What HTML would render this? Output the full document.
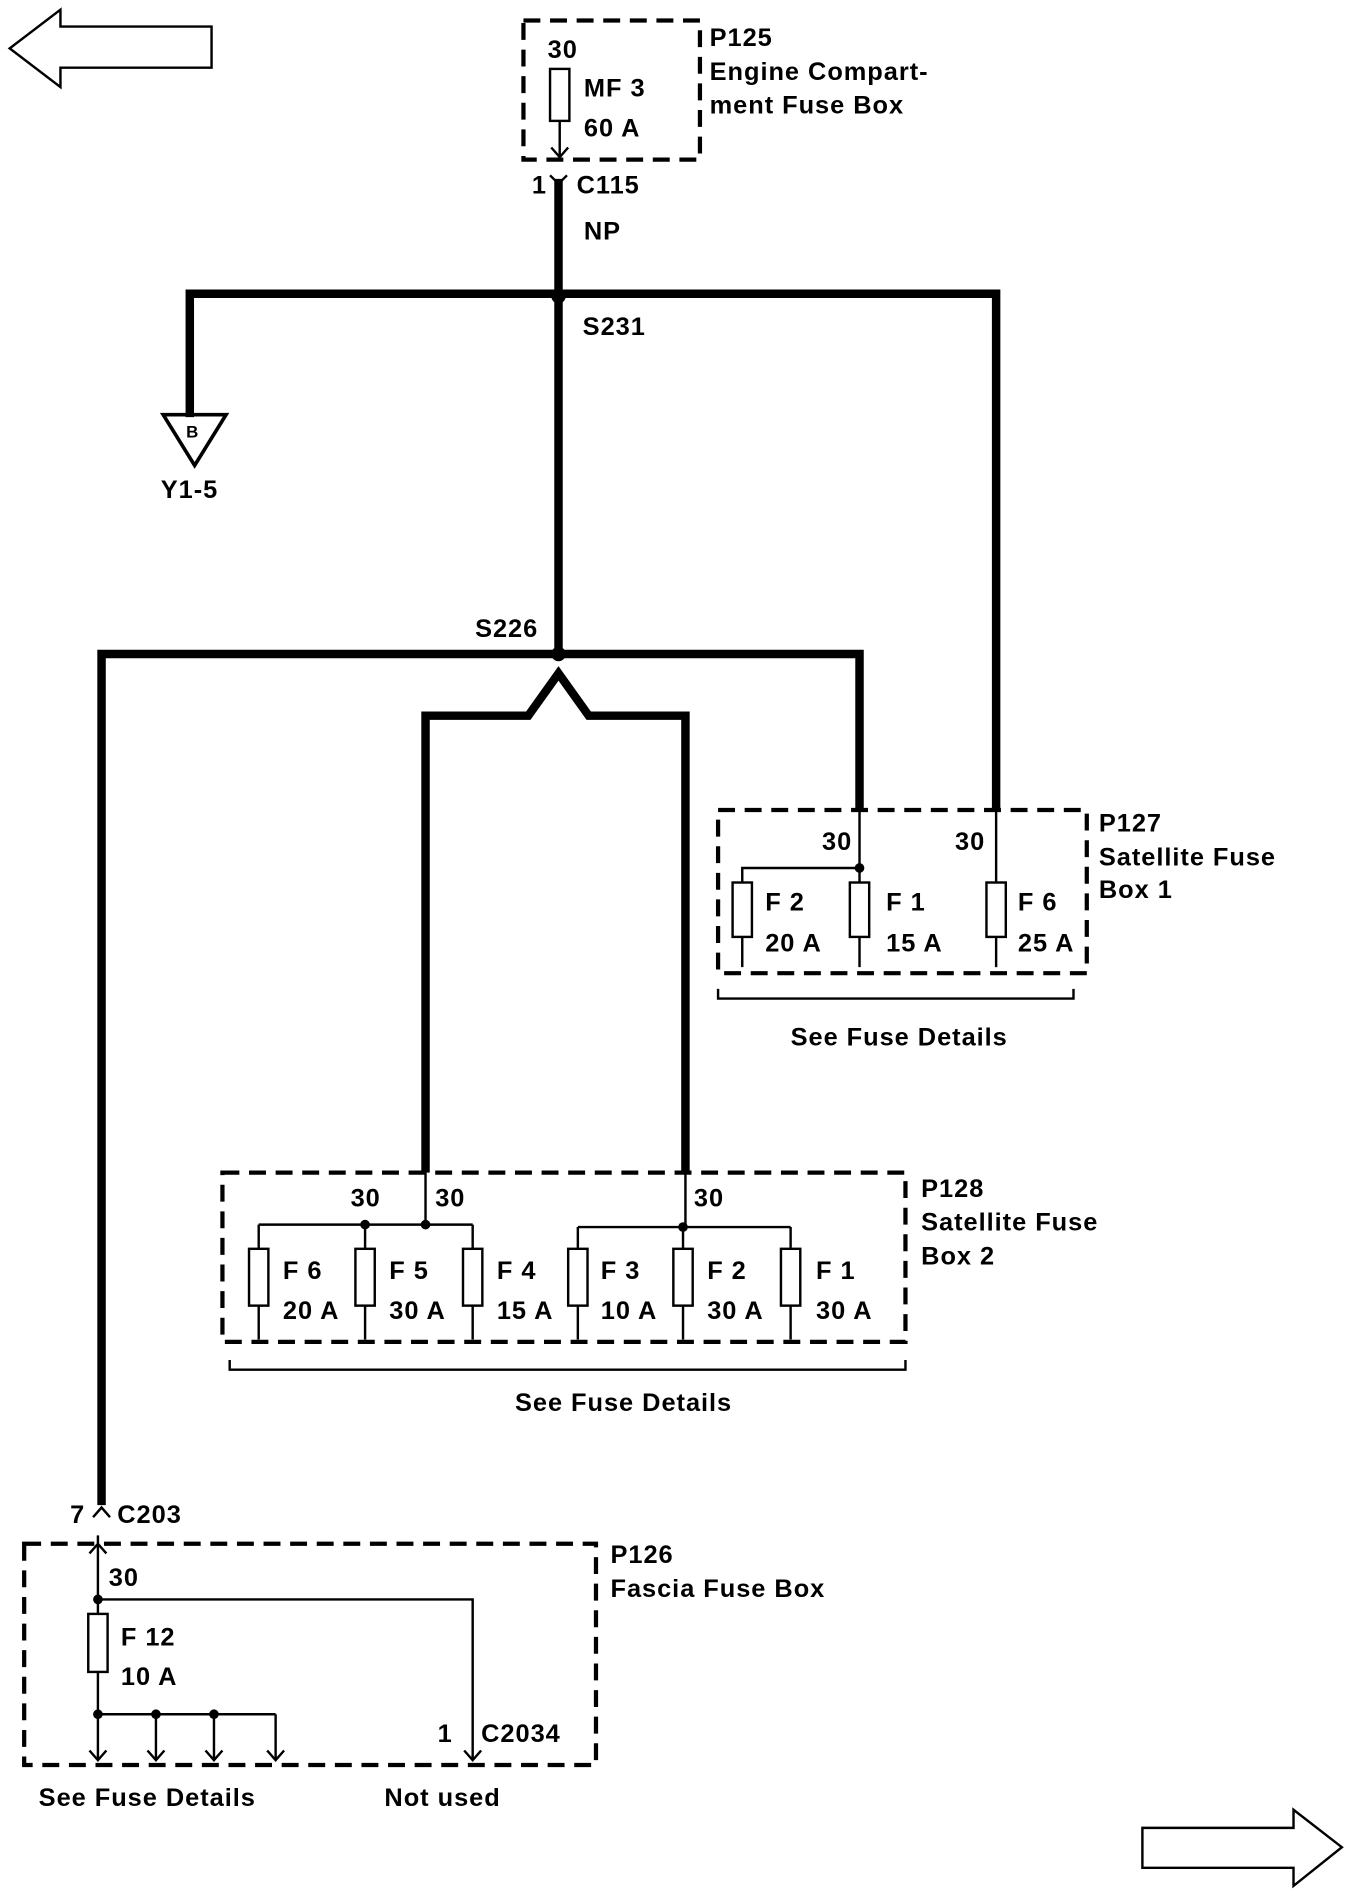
<!DOCTYPE html>
<html><head><meta charset="utf-8"><style>
html,body{margin:0;padding:0;background:#fff;width:1360px;height:1898px;overflow:hidden}
svg{display:block}
text{font-family:"Liberation Sans",sans-serif;font-weight:bold;font-size:21px;letter-spacing:0.8px;fill:#000}
</style></head><body>
<svg width="1360" height="1898" viewBox="0 0 1125 1570" preserveAspectRatio="none" xmlns="http://www.w3.org/2000/svg">
<g fill="none" stroke="#000">
<path d="M175,22 L50,22 L50,8 L8,40 L50,72 L50,56 L175,56 Z" stroke-width="2"/>
<path d="M945,1512 L1070,1512 L1070,1497 L1110,1528 L1070,1560 L1070,1545 L945,1545 Z" stroke-width="2"/>
<g stroke-width="3.5" stroke-dasharray="14,8">
<rect x="433" y="17" width="146" height="115"/>
<rect x="594" y="670" width="305" height="135"/>
<rect x="184" y="970" width="565" height="140"/>
<rect x="20" y="1277" width="473" height="183"/>
</g>
<g stroke-width="7" stroke-linejoin="miter">
<path d="M462,148 L462,541"/>
<path d="M157,345 L157,243 L824,243 L824,670"/>
<path d="M84,1245 L84,541 L711,541 L711,670"/>
<path d="M352,970 L352,592 L437,592 L462,557 L487,592 L567,592 L567,970"/>
</g>
<g stroke-width="2">
<rect x="455" y="57" width="16" height="43"/>
<path d="M463,100 L463,130 M456,122 L463,130 L470,122"/>
<path d="M455,145 L462,152 L469,145"/>
<path d="M711,670 L711,800 M711,718 L614,718 L614,800 M824,670 L824,800"/>
<rect x="606" y="730" width="16" height="45" fill="#fff"/>
<rect x="703" y="730" width="16" height="45" fill="#fff"/>
<rect x="816" y="730" width="16" height="45" fill="#fff"/>
<path d="M594,818 L594,826 L888,826 L888,818"/>
<path d="M352,970 L352,1013 M214,1013 L391,1013 M567,970 L567,1015 M478,1015 L654,1015"/>
<path d="M214,1013 L214,1108 M302,1013 L302,1108 M391,1013 L391,1108 M478,1015 L478,1108 M565,1015 L565,1108 M654,1015 L654,1108"/>
<g fill="#fff">
<rect x="206" y="1033" width="16" height="47"/><rect x="294" y="1033" width="16" height="47"/>
<rect x="383" y="1033" width="16" height="47"/><rect x="470" y="1033" width="16" height="47"/>
<rect x="557" y="1033" width="16" height="47"/><rect x="646" y="1033" width="16" height="47"/>
</g>
<path d="M190,1125 L190,1133 L749,1133 L749,1125"/>
<path d="M77,1255 L84,1247 L91,1255"/>
<path d="M81,1270 L81,1455 M74,1285 L81,1277 L88,1285"/>
<path d="M81,1323 L391,1323 L391,1455"/>
<rect x="73" y="1335" width="16" height="48" fill="#fff"/>
<path d="M81,1418 L228,1418 M129,1418 L129,1455 M177,1418 L177,1455 M228,1418 L228,1455"/>
<path d="M74,1448 L81,1456 L88,1448 M122,1448 L129,1456 L136,1448 M170,1448 L177,1456 L184,1448 M221,1448 L228,1456 L235,1448 M384,1448 L391,1456 L398,1448"/>
</g>
<path d="M135,343 L187,343 L161,385 Z" stroke-width="3"/>
</g>
<g fill="#000">
<circle cx="462" cy="245" r="6"/><circle cx="462" cy="541" r="6"/>
<circle cx="711" cy="718" r="4"/><circle cx="302" cy="1013" r="4"/><circle cx="352" cy="1013" r="4"/>
<circle cx="565" cy="1015" r="4"/><circle cx="81" cy="1323" r="4"/>
<circle cx="81" cy="1418" r="4"/><circle cx="129" cy="1418" r="4"/><circle cx="177" cy="1418" r="4"/>
</g>
<text x="453" y="48">30</text>
<text x="483" y="80">MF 3</text><text x="483" y="113">60 A</text>
<text x="587" y="38">P125</text><text x="587" y="66">Engine Compart-</text><text x="587" y="94">ment Fuse Box</text>
<text x="440" y="160">1</text><text x="477" y="160">C115</text>
<text x="483" y="198">NP</text>
<text x="482" y="277">S231</text>
<text x="154" y="362" style="font-size:14px;letter-spacing:0">B</text>
<text x="133" y="412">Y1-5</text>
<text x="393" y="527">S226</text>
<text x="680" y="703">30</text><text x="790" y="703">30</text>
<text x="633" y="753">F 2</text><text x="633" y="787">20 A</text>
<text x="733" y="753">F 1</text><text x="733" y="787">15 A</text>
<text x="842" y="753">F 6</text><text x="842" y="787">25 A</text>
<text x="909" y="688">P127</text><text x="909" y="716">Satellite Fuse</text><text x="909" y="743">Box 1</text>
<text x="654" y="865">See Fuse Details</text>
<text x="290" y="998">30</text><text x="360" y="998">30</text><text x="574" y="998">30</text>
<text x="234" y="1058">F 6</text><text x="234" y="1091">20 A</text>
<text x="322" y="1058">F 5</text><text x="322" y="1091">30 A</text>
<text x="411" y="1058">F 4</text><text x="411" y="1091">15 A</text>
<text x="497" y="1058">F 3</text><text x="497" y="1091">10 A</text>
<text x="585" y="1058">F 2</text><text x="585" y="1091">30 A</text>
<text x="675" y="1058">F 1</text><text x="675" y="1091">30 A</text>
<text x="762" y="990">P128</text><text x="762" y="1018">Satellite Fuse</text><text x="762" y="1046">Box 2</text>
<text x="426" y="1167">See Fuse Details</text>
<text x="58" y="1260">7</text><text x="97" y="1260">C203</text>
<text x="90" y="1312">30</text>
<text x="100" y="1361">F 12</text><text x="100" y="1394">10 A</text>
<text x="362" y="1441">1</text><text x="398" y="1441">C2034</text>
<text x="505" y="1293">P126</text><text x="505" y="1321">Fascia Fuse Box</text>
<text x="32" y="1494">See Fuse Details</text><text x="318" y="1494">Not used</text>
</svg>
</body></html>
